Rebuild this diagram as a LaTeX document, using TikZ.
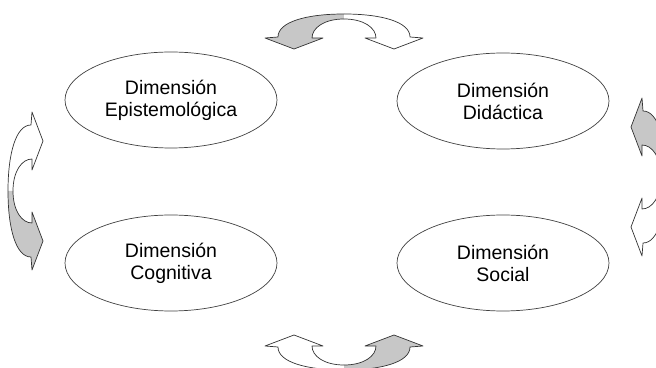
\documentclass[tikz,border=0pt]{standalone}
\usepackage{fontspec}
\setmainfont{Liberation Sans}
\usetikzlibrary{shapes.geometric}

% one half of a bent double arrow, drawn round the local origin
\newcommand{\bendhalf}[1]{%
  \fill[fill=#1] (0,0) .. controls (-38,0) and (-66,-8) .. (-66,-23)
    -- (-79,-24) -- (-50,-35) -- (-21,-24) -- (-32,-24)
    .. controls (-32,-14) and (-20,-5) .. (0,-5) -- cycle;
  \draw[bendpart] (0,0) .. controls (-38,0) and (-66,-8) .. (-66,-23)
    -- (-79,-24) -- (-50,-35) -- (-21,-24) -- (-32,-24)
    .. controls (-32,-14) and (-20,-5) .. (0,-5);}
\newcommand{\bendpair}[2]{\bendhalf{#1}\begin{scope}[xscale=-1]\bendhalf{#2}\end{scope}}

\begin{document}
\begin{tikzpicture}[
x=1pt, y=1pt,
dim/.style={draw=black!75, line width=0.7pt, ellipse, minimum width=212pt, minimum height=96pt, align=center, font=\fontsize{19.5}{22}\selectfont},
bendpart/.style={draw=black!80, line width=0.7pt, line join=round}
]
\useasboundingbox (0,0) rectangle (656,367);
\clip (0,0) rectangle (656,367);
\node[dim] (epis) at (171,267) {Dimensión\\Epistemológica};
\node[dim] (dida) at (503,266) {Dimensión\\Didáctica};
\node[dim] (cogn) at (171,104) {Dimensión\\Cognitiva};
\node[dim] (soci) at (503,104) {Dimensión\\Social};
% bent arrows between the dimensions
\begin{scope}[shift={(344,353)}] \bendpair{black!22}{white} \end{scope}
\begin{scope}[cm={1,0,0,-1,(344,-3)}] \bendpair{white}{black!22} \end{scope}
\begin{scope}[cm={0,-1,-1,0,(8,176)}] \bendpair{white}{black!22} \end{scope}
\begin{scope}[shift={(666,190)}, rotate=-90] \bendpair{black!22}{white} \end{scope}
\end{tikzpicture}
\end{document}
